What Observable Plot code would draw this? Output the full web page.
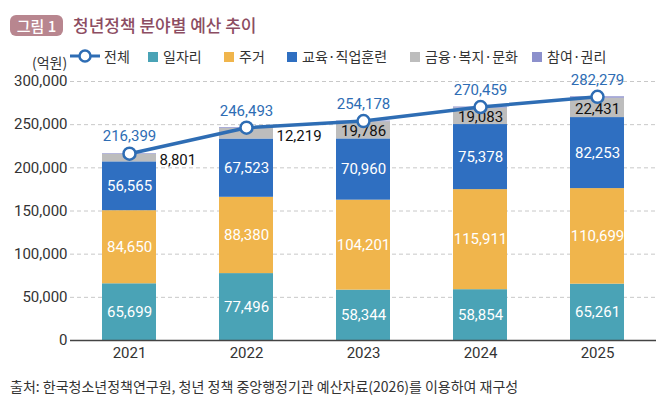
<!DOCTYPE html>
<html>
<head>
<meta charset="utf-8">
<script src="https://cdn.jsdelivr.net/npm/d3@7"></script>
<script src="https://cdn.jsdelivr.net/npm/@observablehq/plot@0.6"></script>
<style>
  body { margin: 0; background: #fff; font-family: Roboto, "Noto Sans CJK KR", sans-serif; }
  #wrap { position: relative; width: 670px; height: 413px; overflow: hidden; }
  .abs { position: absolute; white-space: nowrap; }
  #badge { left: 10px; top: 15px; width: 53px; height: 21px; background: #b8868f; border-radius: 6px; color: #fff; font-size: 15px; line-height: 21px; text-align: center; font-family: "Noto Sans CJK KR", sans-serif; font-weight: 500; }
  #title { left: 73px; top: 12px; font-size: 17px; line-height: 26px; color: #8c4d62; font-family: "Noto Sans CJK KR", sans-serif; font-weight: 500; }
  .leg { font-size: 14px; color: #333; line-height: 18px; top: 47px; font-family: "Noto Sans CJK KR", sans-serif; }
  .sw { position: absolute; top: 52px; width: 10px; height: 10px; }
  #chart { position: absolute; left: 0; top: 66px; }
  #caption { left: 10px; top: 376px; font-size: 14px; color: #333; line-height: 20px; font-family: "Noto Sans CJK KR", sans-serif; }
</style>
</head>
<body>
<div id="wrap">
  <div id="badge" class="abs">그림 1</div>
  <div id="title" class="abs">청년정책 분야별 예산 추이</div>
  <div id="legend"></div>
  <div id="chart"></div>
  <div id="caption" class="abs">출처: 한국청소년정책연구원, 청년 정책 중앙행정기관 예산자료(2026)를 이용하여 재구성</div>
</div>
<script>
const years = ["2021", "2022", "2023", "2024", "2025"];
const categories = ["일자리", "주거", "교육·직업훈련", "금융·복지·문화", "참여·권리"];
const colors = ["#4aa3b6", "#f0b54c", "#2f6fc1", "#bdbdbd", "#8c90cc"];
const jobs = [65699, 77496, 58344, 58854, 65261];
const housing = [84650, 88380, 104201, 115911, 110699];
const education = [56565, 67523, 70960, 75378, 82253];
const finance = [8801, 12219, 19786, 19083, 22431];
const participation = [684, 875, 887, 1233, 1635];
const totals = [216399, 246493, 254178, 270459, 282279];
const yTicks = [0, 50000, 100000, 150000, 200000, 250000, 300000];

const series = [jobs, housing, education, finance, participation];
const rows = [];
years.forEach((yr, i) => {
  let base = 0;
  series.forEach((s, k) => {
    const v = s[i];
    rows.push({year: yr, cat: categories[k], k, value: v, y1: base, y2: base + v, mid: base + v / 2, idx: i});
    base += v;
  });
});
const totalRows = years.map((yr, i) => ({year: yr, total: totals[i]}));
const fmt = d3.format(",");

// Legend
const legend = document.getElementById("legend");
function addText(x, txt) {
  const d = document.createElement("div");
  d.className = "abs leg"; d.style.left = x + "px"; d.textContent = txt; legend.appendChild(d);
}
const unit = document.createElement("div");
unit.className = "abs leg"; unit.style.left = "32px"; unit.style.top = "53px"; unit.textContent = "(억원)";
legend.appendChild(unit);
legend.insertAdjacentHTML("beforeend",
  `<svg class="abs" style="left:68px;top:48px" width="34" height="16"><line x1="2" x2="32" y1="8" y2="8" stroke="#2e6db4" stroke-width="3"/><circle cx="17" cy="8" r="5.5" fill="#fff" stroke="#2e6db4" stroke-width="2.5"/></svg>`);
addText(104, "전체");
const swX = [148, 224, 287, 410, 532];
categories.forEach((c, k) => {
  const s = document.createElement("div");
  s.className = "sw"; s.style.left = swX[k] + "px"; s.style.background = colors[k];
  legend.appendChild(s);
  addText(swX[k] + 15, c);
});

const chart = Plot.plot({
  width: 670,
  height: 304,
  marginTop: 15,
  marginBottom: 30,
  marginLeft: 70,
  marginRight: 14,
  style: {fontFamily: "Roboto, 'Noto Sans CJK KR', sans-serif", fontSize: "15px", color: "#333", background: "transparent"},
  x: {domain: years, paddingInner: 0.54, paddingOuter: 0.27, align: 0.5, label: null, tickSize: 0, tickPadding: 7},
  y: {domain: [0, 300000], ticks: yTicks, tickFormat: fmt, label: null, tickSize: 0, tickPadding: 3},
  color: {domain: categories, range: colors},
  marks: [
    Plot.ruleY(yTicks.filter(d => d > 0), {stroke: "#c8c8c8", strokeDasharray: "4,3", strokeWidth: 1}),
    Plot.barY(rows, {x: "year", y1: "y1", y2: "y2", fill: "cat"}),
    Plot.ruleY([0], {stroke: "#444", strokeWidth: 1.3}),
    Plot.text(rows.filter(d => d.k < 3), {x: "year", y: "mid", text: d => fmt(d.value), fill: "#fff", fontSize: 15}),
    Plot.text(rows.filter(d => d.k === 3 && d.idx >= 2), {x: "year", y: "mid", text: d => fmt(d.value), fill: "#111", fontSize: 15, dy: 1}),
    Plot.text(rows.filter(d => d.k === 3 && d.idx < 2), {x: "year", y: "mid", text: d => fmt(d.value), fill: "#111", fontSize: 15, textAnchor: "start", dx: 30, dy: 2}),
    Plot.line(totalRows, {x: "year", y: "total", stroke: "#2e6db4", strokeWidth: 3.5}),
    Plot.dot(totalRows, {x: "year", y: "total", r: 6, fill: "#fff", stroke: "#2e6db4", strokeWidth: 2.5}),
    Plot.text(totalRows, {x: "year", y: "total", text: d => fmt(d.total), fill: "#2e6db4", fontSize: 15, dy: -17})
  ]
});
document.getElementById("chart").appendChild(chart);
</script>
</body>
</html>
